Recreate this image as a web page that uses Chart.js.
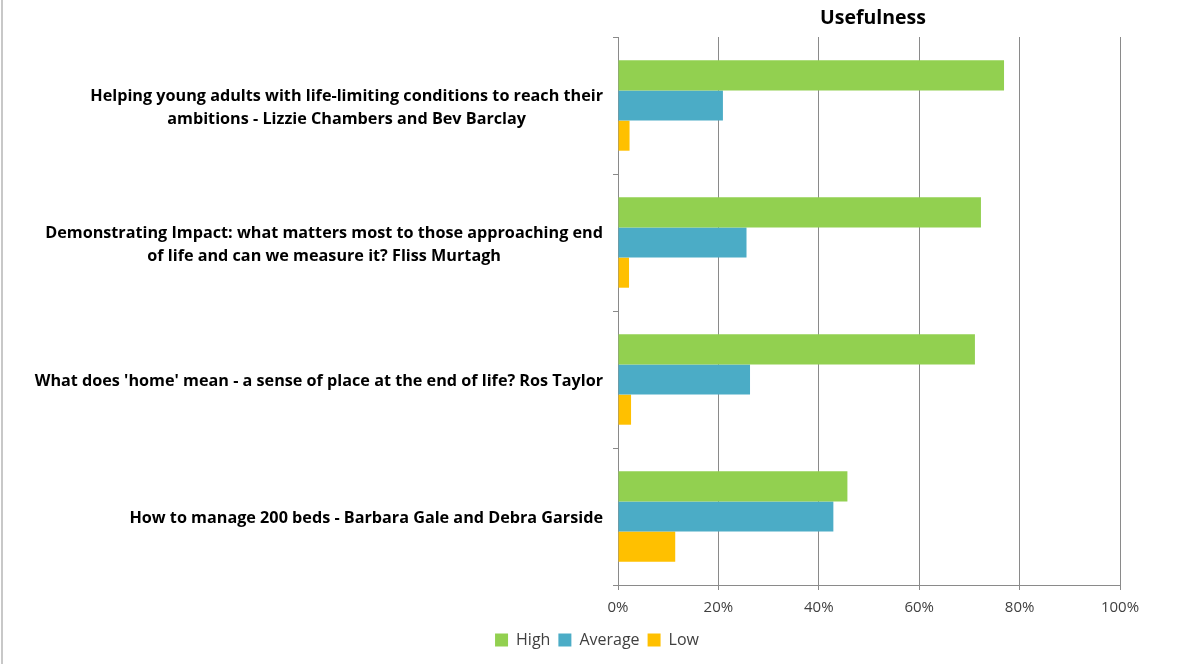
<!DOCTYPE html>
<html>
<head>
<meta charset="utf-8">
<script src="https://cdn.jsdelivr.net/npm/chart.js@4/dist/chart.umd.min.js"></script>
<style>
  html, body { margin: 0; padding: 0; background: #fff; }
  #wrap { position: relative; width: 1188px; height: 664px; }
  #wrap:before { content: ''; position: absolute; left: 1px; top: 0; bottom: 0; width: 2px; background: #c8c8c8; }
</style>
</head>
<body>
<div id="wrap"><canvas id="usefulnessChart" width="1188" height="664"></canvas></div>
<script>
// categories (each an array of label lines)
const categories = [
    ['Helping young adults with life-limiting conditions to reach their', 'ambitions - Lizzie Chambers and Bev Barclay'],
    ['Demonstrating Impact: what matters most to those approaching end', 'of life and can we measure it? Fliss Murtagh'],
    ["What does 'home' mean - a sense of place at the end of life? Ros Taylor"],
    ['How to manage 200 beds - Barbara Gale and Debra Garside']
];
const seriesNames = ['High', 'Average', 'Low'];
const highValues = [76.9, 72.3, 71.1, 45.7];
const averageValues = [20.9, 25.6, 26.3, 42.9];
const lowValues = [2.3, 2.2, 2.6, 11.4];
const xTicks = [0, 20, 40, 60, 80, 100];
const chartTitle = 'Usefulness';

const colors = ['#92D050', '#4BACC6', '#FFC000'];
const FONT = '"Open Sans", Lato, sans-serif';

// draws the title over the plot area and the wrapped category labels
const labelPlugin = {
    id: 'labelPlugin',
    afterDraw(chart) {
        const ctx = chart.ctx;
        const area = chart.chartArea;
        const yScale = chart.scales.y;
        ctx.save();
        ctx.fillStyle = '#000';
        ctx.textBaseline = 'middle';
        ctx.textAlign = 'center';
        ctx.font = 'bold 19.5px ' + FONT;
        ctx.fillText(chartTitle, (area.left + area.right) / 2 + 4, 18);

        ctx.font = 'bold 16.2px ' + FONT;
        const rightEdge = area.left - 15;
        const lineH = 23;
        categories.forEach((lines, i) => {
            const y = yScale.getPixelForValue(i) + 2;
            const widest = Math.max(...lines.map(l => ctx.measureText(l).width));
            const cx = rightEdge - widest / 2;
            lines.forEach((line, j) => {
                ctx.fillText(line, cx, y + (j - (lines.length - 1) / 2) * lineH);
            });
        });
        ctx.restore();
    }
};

const ctx = document.getElementById('usefulnessChart').getContext('2d');
new Chart(ctx, {
    type: 'bar',
    data: {
        labels: categories,
        datasets: [
            { label: seriesNames[0], data: highValues, backgroundColor: colors[0] },
            { label: seriesNames[1], data: averageValues, backgroundColor: colors[1] },
            { label: seriesNames[2], data: lowValues, backgroundColor: colors[2] }
        ]
    },
    options: {
        indexAxis: 'y',
        responsive: false,
        animation: false,
        layout: { padding: { left: 74, right: 68, top: 37, bottom: 6 } },
        datasets: { bar: { categoryPercentage: 0.66, barPercentage: 1 } },
        scales: {
            x: {
                min: 0,
                max: 100,
                afterBuildTicks: (scale) => { scale.ticks = xTicks.map(v => ({ value: v })); },
                ticks: {
                    callback: v => v + '%',
                    color: '#404040',
                    font: { family: FONT, size: 15 },
                    padding: 9
                },
                grid: { color: '#8a8a8a', lineWidth: 1, tickLength: 5 },
                border: { color: '#8a8a8a' },
                afterFit: (scale) => { scale.height = 39; }
            },
            y: {
                ticks: { display: false },
                grid: { drawOnChartArea: false, color: '#8a8a8a', tickLength: 5 },
                border: { color: '#8a8a8a' },
                afterFit: (scale) => { scale.width = 544; }
            }
        },
        plugins: {
            title: { display: false },
            tooltip: { enabled: false },
            legend: {
                position: 'bottom',
                labels: {
                    boxWidth: 13,
                    boxHeight: 13,
                    padding: 8,
                    color: '#404040',
                    font: { family: FONT, size: 16 }
                }
            }
        }
    },
    plugins: [labelPlugin]
});
</script>
</body>
</html>
